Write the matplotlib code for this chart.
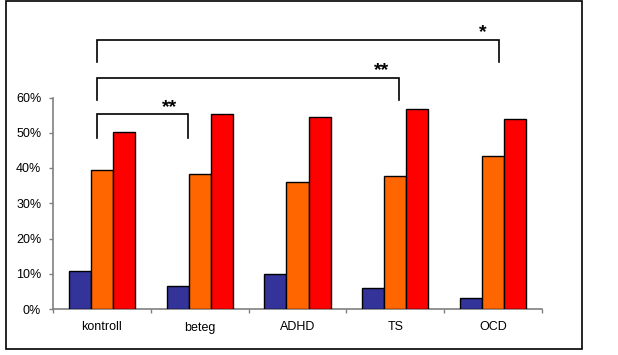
import matplotlib
matplotlib.use("Agg")
import matplotlib.pyplot as plt
import numpy as np
from matplotlib.patches import Rectangle

plt.rcParams['font.family'] = ['Liberation Sans', 'DejaVu Sans']

categories = ['kontroll', 'beteg', 'ADHD', 'TS', 'OCD']
series_1 = [10.7, 6.4, 9.8, 5.9, 3.0]
series_2 = [39.3, 38.3, 35.9, 37.6, 43.3]
series_3 = [50.2, 55.2, 54.6, 56.8, 54.0]
colors = ['#333399', '#FF6600', '#FF0000']

fig = plt.figure(figsize=(6.18, 3.55), dpi=100)
ax = fig.add_axes([53/618, 1 - 309/355, (542-53)/618, (309-97.5)/355])

x = np.arange(len(categories))
w = 0.225
for i, (vals, c) in enumerate(zip([series_1, series_2, series_3], colors)):
    ax.bar(x + (i - 1)*w, vals, w, color=c, edgecolor='black', linewidth=1.0, zorder=3)

ax.set_xlim(-0.5, len(categories) - 0.5)
ax.set_ylim(0, 60)
ax.set_yticks(range(0, 61, 10))
ax.set_yticklabels(['%d%%' % v for v in range(0, 61, 10)])
ax.set_xticks(x)
ax.set_xticklabels(categories)
ax.set_xticks(np.arange(-0.5, len(categories)), minor=True)

for s in ['top', 'right']:
    ax.spines[s].set_visible(False)
for s in ['left', 'bottom']:
    ax.spines[s].set_color('#808080')
    ax.spines[s].set_linewidth(1.2)

ax.tick_params(axis='y', direction='out', length=3, width=1, color='#808080',
               labelsize=9, pad=5.5)
ax.tick_params(axis='x', which='major', length=0, labelsize=9, pad=9)
ax.tick_params(axis='x', which='minor', direction='out', length=3, width=1, color='#808080')

# significance brackets
brackets = [(-0.047, 0.883, 55.2, 48.6, 0.689, '**'),
            (-0.047, 3.041, 65.6, 59.3, 2.857, '**'),
            (-0.047, 4.057, 76.4, 70.1, 3.894, '*')]
for x0, x1, ytop, ybot, xs, label in brackets:
    ax.plot([x0, x0, x1, x1], [ybot, ytop, ytop, ybot], color='black', lw=1.2,
            clip_on=False, solid_joinstyle='miter')
    ax.text(xs, ytop - 0.4, label, ha='center', va='bottom', fontsize=14,
            fontweight='bold', clip_on=False)

fig.patches.append(Rectangle((5.5/618, 1 - 349/355), (581.7-5.5)/618, (349-1.3)/355,
                             transform=fig.transFigure, fill=False,
                             edgecolor='black', linewidth=1.2))

fig.savefig('out.png', dpi=100)
